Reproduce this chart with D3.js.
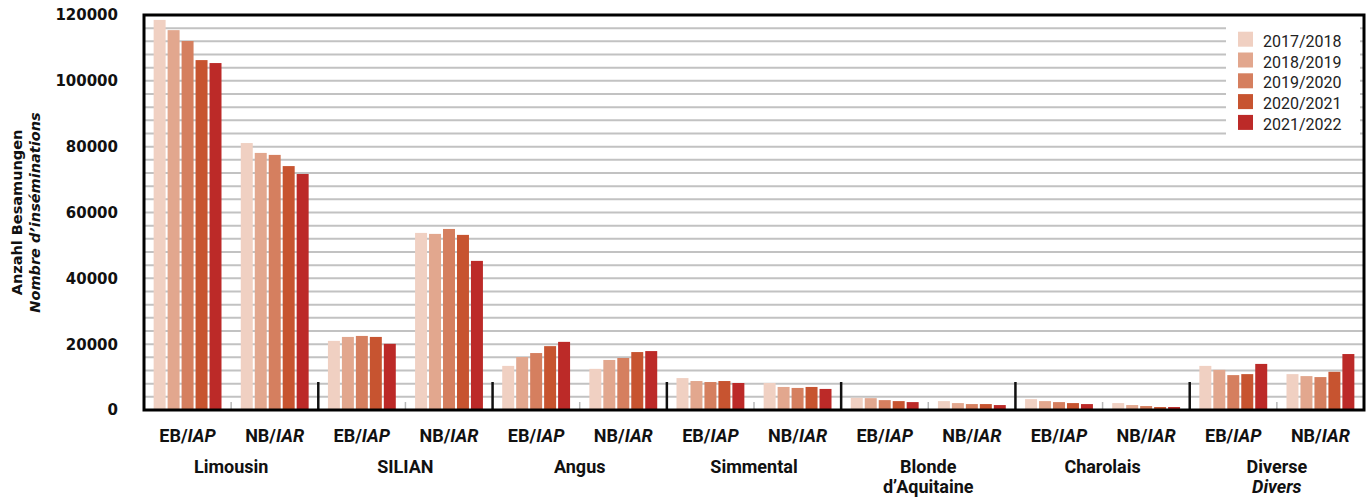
<!DOCTYPE html>
<html>
<head>
<meta charset="utf-8">
<script src="https://cdn.jsdelivr.net/npm/d3@7"></script>
<style>
  body { margin: 0; background: #fff; }
  svg { display: block; }
</style>
</head>
<body>
<div id="chart"></div>
<script>
// data
const breeds = ["Limousin", "SILIAN", "Angus", "Simmental", "Blonde\nd\u2019Aquitaine", "Charolais", "Diverse\nDivers"];
const types = ["EB", "NB"];
const seasons = ["2017/2018", "2018/2019", "2019/2020", "2020/2021", "2021/2022"];
const seasonColours = ["#F0D0C2", "#E2A78E", "#D57F5F", "#C75430", "#BC2A28"];
const yTicks = [0, 20000, 40000, 60000, 80000, 100000, 120000];

// one row per breed, EB values then NB values (per season)
const limousinValues  = [[118500, 115400, 112100, 106300, 105400], [81100, 78100, 77500, 74100, 71700]];
const silianValues    = [[21000, 22200, 22500, 22200, 20100], [53800, 53500, 55000, 53200, 45300]];
const angusValues     = [[13400, 16100, 17300, 19400, 20700], [12500, 15200, 15800, 17600, 17900]];
const simmentalValues = [[9700, 8800, 8500, 8800, 8200], [8200, 7000, 6700, 7000, 6400]];
const blondeValues    = [[3700, 3600, 3000, 2700, 2400], [2700, 2100, 1800, 1800, 1500]];
const charolaisValues = [[3300, 2700, 2400, 2100, 1800], [2100, 1500, 1200, 900, 900]];
const diverseValues   = [[13400, 12200, 10600, 10900, 14000], [10900, 10300, 10000, 11600, 17000]];

const allValues = [limousinValues, silianValues, angusValues, simmentalValues, blondeValues, charolaisValues, diverseValues];

const width = 1370, height = 499;
const margin = {top: 15, right: 6, bottom: 89, left: 144};

const svg = d3.select("#chart").append("svg")
    .attr("width", width)
    .attr("height", height);

// x: one band per breed/type pair
const cats = [];
breeds.forEach((b, i) => types.forEach((t, j) => cats.push({breed: i, type: j, key: i + "-" + j})));

const x0 = d3.scaleBand()
    .domain(cats.map(d => d.key))
    .range([margin.left, width - margin.right])
    .padding(0);

const x1 = d3.scaleBand()
    .domain(seasons)
    .range([0, x0.bandwidth()])
    .paddingInner(1 / 7)
    .paddingOuter(0.69);

const y = d3.scaleLinear()
    .domain([0, 120000])
    .range([height - margin.bottom, margin.top]);

const colour = d3.scaleOrdinal().domain(seasons).range(seasonColours);

// gridlines every 4000
const gridVals = d3.range(4000, 120000, 4000);
svg.append("g").selectAll("line")
    .data(gridVals)
    .join("line")
    .attr("x1", margin.left)
    .attr("x2", width - margin.right)
    .attr("y1", d => y(d))
    .attr("y2", d => y(d))
    .attr("stroke", "#c2c2c2")
    .attr("stroke-width", 2);

// separators at the bottom
svg.append("g").selectAll("line")
    .data(cats.slice(1))
    .join("line")
    .attr("x1", d => x0(d.key))
    .attr("x2", d => x0(d.key))
    .attr("y1", d => d.type === 0 ? y(0) - 28 : y(0) - 8)
    .attr("y2", y(0))
    .attr("stroke", d => d.type === 0 ? "#111" : "#b8b8b8")
    .attr("stroke-width", d => d.type === 0 ? 2.5 : 1.5);

// bars
const barData = [];
cats.forEach(c => {
    seasons.forEach((s, k) => {
        barData.push({key: c.key, season: s, value: allValues[c.breed][c.type][k]});
    });
});

svg.append("g").selectAll("rect")
    .data(barData)
    .join("rect")
    .attr("x", d => x0(d.key) + x1(d.season))
    .attr("y", d => y(d.value))
    .attr("width", x1.bandwidth())
    .attr("height", d => y(0) - y(d.value))
    .attr("fill", d => colour(d.season));

// frame
svg.append("rect")
    .attr("x", margin.left)
    .attr("y", margin.top)
    .attr("width", width - margin.right - margin.left)
    .attr("height", y(0) - margin.top)
    .attr("fill", "none")
    .attr("stroke", "#000")
    .attr("stroke-width", 3);

// y axis labels
svg.append("g").selectAll("text")
    .data(yTicks)
    .join("text")
    .attr("x", 118)
    .attr("y", d => y(d))
    .attr("dy", "0.36em")
    .attr("text-anchor", "end")
    .style("font", "bold 15px 'DejaVu Sans'")
    .attr("fill", "#111")
    .text(d => d);

const yTitle = svg.append("text")
    .attr("transform", `translate(22, ${(y(0) + margin.top) / 2}) rotate(-90)`)
    .attr("text-anchor", "middle")
    .style("font", "bold 14.5px 'DejaVu Sans'")
    .attr("fill", "#111");
yTitle.append("tspan").attr("x", 0).attr("y", 0).text("Anzahl Besamungen");
yTitle.append("tspan").attr("x", 0).attr("y", 18).style("font-style", "italic").text("Nombre d\u2019inséminations");

// x labels
const typeLabels = [["EB/", "IAP"], ["NB/", "IAR"]];
const xl = svg.append("g").selectAll("text")
    .data(cats)
    .join("text")
    .attr("x", d => x0(d.key) + x0.bandwidth() / 2)
    .attr("y", 442)
    .attr("text-anchor", "middle")
    .style("font", "bold 18px Roboto")
    .attr("fill", "#111");
xl.append("tspan").text(d => typeLabels[d.type][0]);
xl.append("tspan").style("font-style", "italic").text(d => typeLabels[d.type][1]);

svg.append("g").selectAll("text")
    .data(breeds)
    .join("text")
    .attr("y", 473)
    .attr("text-anchor", "middle")
    .style("font", "bold 18px Roboto")
    .attr("fill", "#111")
    .each(function (d, i) {
        const cx = x0(i + "-0") + x0.bandwidth();
        const t = d3.select(this);
        d.split("\n").forEach((ln, k) => {
            t.append("tspan")
                .attr("x", cx)
                .attr("dy", k === 0 ? 0 : 19.5)
                .style("font-style", k === 1 && d.startsWith("Diverse") ? "italic" : null)
                .text(ln);
        });
    });

// legend
const legend = svg.append("g").attr("transform", "translate(1226, 21)");
legend.append("rect")
    .attr("width", 134)
    .attr("height", 118)
    .attr("fill", "#fff");
const items = legend.selectAll("g")
    .data(seasons)
    .join("g")
    .attr("transform", (d, i) => `translate(12, ${10.7 + i * 20.8})`);
items.append("rect")
    .attr("width", 15)
    .attr("height", 15)
    .attr("fill", d => colour(d));
items.append("text")
    .attr("x", 25)
    .attr("y", 15)
    .style("font", "16px Roboto")
    .attr("fill", "#222")
    .text(d => d);
</script>
</body>
</html>
